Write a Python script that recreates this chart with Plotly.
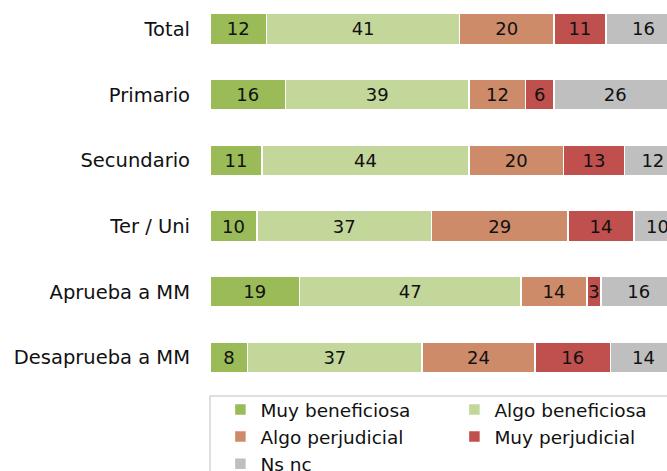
import plotly.graph_objects as go

categories = ["Total", "Primario", "Secundario", "Ter / Uni", "Aprueba a MM", "Desaprueba a MM"]
series_names = ["Muy beneficiosa", "Algo beneficiosa", "Algo perjudicial", "Muy perjudicial", "Ns nc"]
muy_beneficiosa = [12, 16, 11, 10, 19, 8]
algo_beneficiosa = [41, 39, 44, 37, 47, 37]
algo_perjudicial = [20, 12, 20, 29, 14, 24]
muy_perjudicial = [11, 6, 13, 14, 3, 16]
ns_nc = [16, 26, 12, 10, 16, 14]
series_values = [muy_beneficiosa, algo_beneficiosa, algo_perjudicial, muy_perjudicial, ns_nc]
colors = ["#9BBB59", "#C4D79B", "#CD8B69", "#C0504D", "#BFBFBF"]

FONT = "DejaVu Sans"
W, H = 667, 471
ML, MR, MT, MB = 210, 0, 0, 80
plot_h = H - MT - MB
plot_w = W - ML - MR

fig = go.Figure()
for name, vals, col in zip(series_names, series_values, colors):
    fig.add_trace(go.Bar(
        y=categories, x=vals, name=name, orientation="h",
        marker=dict(color=col, line=dict(color="white", width=1.5)),
        text=[str(v) for v in vals], textposition="inside",
        insidetextanchor="middle", textangle=0, constraintext="none",
        textfont=dict(family=FONT, size=18, color="#111111"),
        width=0.47, hoverinfo="skip",
    ))

# helpers: pixel -> paper coords of the plot area
def py(p):
    return (plot_h - (p - MT)) / plot_h

def px(p):
    return (p - ML) / plot_w

# legend frame
fig.add_shape(type="rect", xref="paper", yref="paper",
              x0=0, x1=px(710), y0=py(396), y1=py(520),
              line=dict(color="#BFBFBF", width=1), fillcolor="rgba(0,0,0,0)")

fig.update_layout(
    width=W, height=H,
    barmode="stack",
    plot_bgcolor="white", paper_bgcolor="white",
    margin=dict(l=ML, r=MR, t=MT, b=MB, pad=0, autoexpand=False),
    font=dict(family=FONT, size=19, color="#111111"),
    xaxis=dict(range=[0, 97.0], showgrid=False, zeroline=False, showticklabels=False,
               showline=False, fixedrange=True),
    yaxis=dict(type="category", range=[5.51, -0.441], showgrid=False, zeroline=False,
               showline=False, ticks="", ticklabelstandoff=19, fixedrange=True,
               tickfont=dict(family=FONT, size=19.5, color="#111111")),
    showlegend=True,
    legend=dict(orientation="h", x=-0.0005, xanchor="left", y=py(391), yanchor="top",
                entrywidth=189, entrywidthmode="pixels", traceorder="normal",
                title=dict(text="\u00a0", side="left", font=dict(family=FONT, size=2)),
                font=dict(family=FONT, size=18.5, color="#111111"),
                bgcolor="rgba(0,0,0,0)", borderwidth=0, itemclick=False),
)

fig.write_html("out.html", config={"displayModeBar": False},
               post_script="document.body.style.margin='0';document.body.style.overflow='hidden';")
